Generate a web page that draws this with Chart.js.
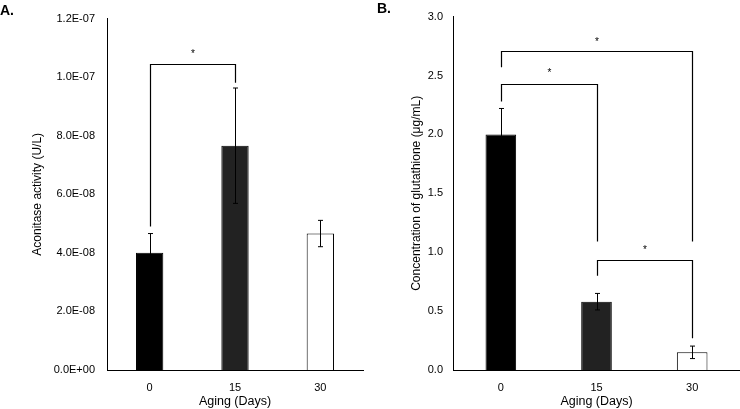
<!DOCTYPE html>
<html>
<head>
<meta charset="utf-8">
<script src="https://cdn.jsdelivr.net/npm/chart.js@4"></script>
<style>
  html, body { margin: 0; padding: 0; background: #fff; }
  body { width: 740px; height: 409px; position: relative; overflow: hidden; font-family: 'Liberation Sans', Arial, sans-serif; }
  .panel { position: absolute; top: 0; width: 370px; height: 409px; }
  .tag { position: absolute; font-weight: bold; font-size: 14px; color: #000; line-height: 14px; }
</style>
</head>
<body>
<div class="panel" style="left:0"><canvas id="cA" width="370" height="409"></canvas></div>
<div class="panel" style="left:370px"><canvas id="cB" width="370" height="409"></canvas></div>
<div class="tag" style="left:0px; top:3px;">A.</div>
<div class="tag" style="left:377px; top:1px;">B.</div>
<script>
// ---- data ----
const categories = ['0', '15', '30'];
const aconitase = [4.0e-8, 7.66e-8, 4.66e-8];
const aconitaseErr = [0.66e-8, 1.97e-8, 0.45e-8];
const glutathione = [2.0, 0.58, 0.15];
const glutathioneErr = [0.22, 0.07, 0.053];
const barColors = ['#000000', '#222222', '#ffffff'];
// significance brackets: [fromIndex, toIndex, barLevel, leftLegEnd, rightLegEnd, starLevel]
const bracketsA = [[0, 1, 1.044e-7, 4.9e-8, 9.81e-8, 1.09e-7]];
const bracketsB = [
  [0, 2, 2.706, 2.57, 1.09, 2.81],
  [0, 1, 2.424, 2.28, 1.09, 2.545],
  [1, 2, 0.937, 0.80, 0.269, 1.04]
];

const FONT = "'Liberation Sans', Arial, sans-serif";

function sci(v) {
  const [m, e] = Number(v).toExponential(1).split('e');
  const sign = e[0] === '-' ? '-' : '+';
  const digits = e.replace(/[+-]/, '').padStart(2, '0');
  return m + 'E' + sign + digits;
}

const annotPlugin = {
  id: 'annot',
  afterDatasetsDraw(chart, args, opts) {
    const ctx = chart.ctx;
    const xs = chart.scales.x, ys = chart.scales.y;
    const vals = chart.data.datasets[0].data;
    ctx.save();
    ctx.strokeStyle = '#000';
    ctx.lineWidth = 1;
    // error bars
    opts.errors.forEach((err, i) => {
      const x = Math.round(xs.getPixelForValue(i)) + 0.5;
      const yt = ys.getPixelForValue(vals[i] + err);
      const yb = ys.getPixelForValue(vals[i] - err);
      ctx.beginPath();
      ctx.moveTo(x, yt); ctx.lineTo(x, yb);
      ctx.moveTo(x - 2.5, yt); ctx.lineTo(x + 2.5, yt);
      ctx.moveTo(x - 2.5, yb); ctx.lineTo(x + 2.5, yb);
      ctx.stroke();
    });
    // brackets
    ctx.lineWidth = 1.2;
    ctx.fillStyle = '#000';
    ctx.font = '10px ' + FONT;
    ctx.textAlign = 'center';
    ctx.textBaseline = 'alphabetic';
    opts.brackets.forEach(b => {
      const x1 = Math.round(xs.getPixelForValue(b[0])) + 0.5;
      const x2 = Math.round(xs.getPixelForValue(b[1])) + 0.5;
      const yb = Math.round(ys.getPixelForValue(b[2])) + 0.5;
      ctx.beginPath();
      ctx.moveTo(x1, ys.getPixelForValue(b[3]));
      ctx.lineTo(x1, yb);
      ctx.lineTo(x2, yb);
      ctx.lineTo(x2, ys.getPixelForValue(b[4]));
      ctx.stroke();
      ctx.fillText('*', (x1 + x2) / 2, ys.getPixelForValue(b[5]) + 5.7);
    });
    ctx.restore();
  }
};

function makeChart(id, values, errors, brackets, yOpts, geom) {
  return new Chart(document.getElementById(id), {
    type: 'bar',
    data: {
      labels: categories,
      datasets: [{
        data: values,
        backgroundColor: barColors,
        borderColor: '#000',
        borderWidth: 1,
        barPercentage: 0.32,
        categoryPercentage: 1.0
      }]
    },
    options: {
      responsive: false,
      animation: false,
      devicePixelRatio: 1,
      layout: { padding: { left: 0, right: geom.padRight, top: 5, bottom: 0 } },
      plugins: {
        legend: { display: false },
        tooltip: { enabled: false },
        annot: { errors: errors, brackets: brackets }
      },
      scales: {
        x: {
          grid: { display: false, drawTicks: false },
          border: { display: true, color: '#000', width: 1 },
          ticks: { color: '#000', font: { family: FONT, size: 11 }, padding: 11 },
          title: { display: true, text: 'Aging (Days)', color: '#000', font: { family: FONT, size: 12.5 }, padding: { top: 0, bottom: 0 } },
          afterFit(s) { s.height = 39; }
        },
        y: Object.assign({
          grid: { display: false, drawTicks: false },
          border: { display: true, color: '#000', width: 1 },
          afterFit(s) { s.width = geom.yWidth; }
        }, yOpts)
      }
    },
    plugins: [annotPlugin]
  });
}

makeChart('cA', aconitase, aconitaseErr, bracketsA, {
  min: 0, max: 1.2e-7,
  ticks: { stepSize: 2e-8, color: '#000', font: { family: FONT, size: 11 }, padding: 12, callback: v => sci(v) },
  title: { display: true, text: 'Aconitase activity (U/L)', color: '#000', font: { family: FONT, size: 12 }, padding: { top: 30.8, bottom: 0 } }
}, { padRight: 7, yWidth: 107 });

makeChart('cB', glutathione, glutathioneErr, bracketsB, {
  min: 0, max: 3.0,
  ticks: { stepSize: 0.5, color: '#000', font: { family: FONT, size: 11 }, padding: 10, callback: v => Number(v).toFixed(1) },
  title: { display: true, text: 'Concentration of glutathione (μg/mL)', color: '#000', font: { family: FONT, size: 12 }, padding: { top: 39.8, bottom: 0 } }
}, { padRight: 0, yWidth: 83 });
</script>
</body>
</html>
